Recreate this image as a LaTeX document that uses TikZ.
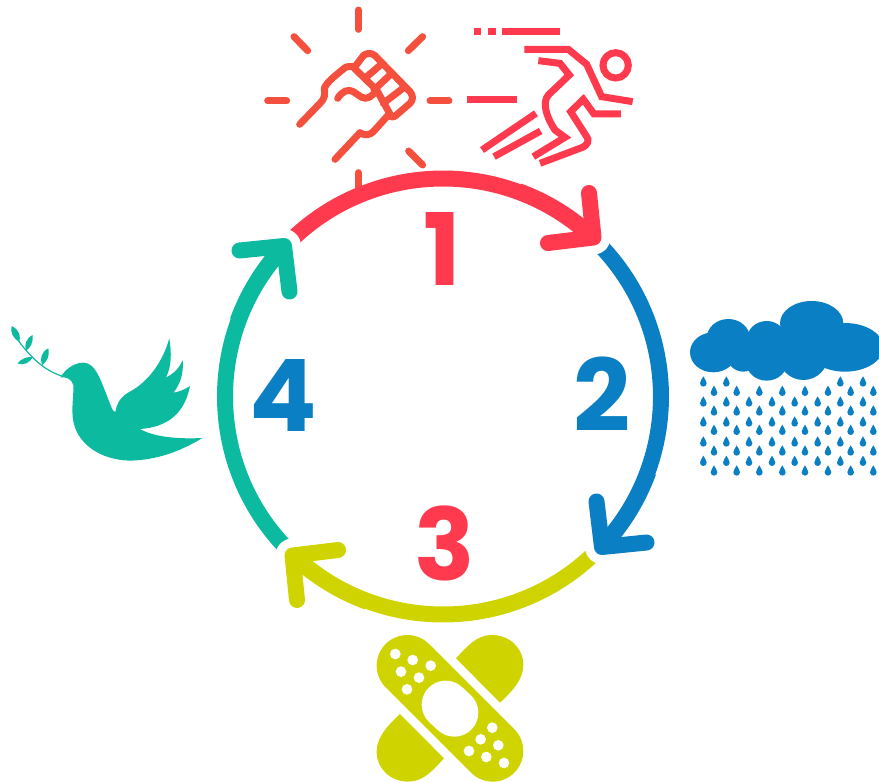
\documentclass[tikz,border=0pt]{standalone}
\usepackage{fontspec}
\setmainfont{Poppins}
\usetikzlibrary{calc}
\definecolor{ringred}{HTML}{FF3A4F}
\definecolor{ringblue}{HTML}{0A7FC4}
\definecolor{ringolive}{HTML}{CFD400}
\definecolor{ringteal}{HTML}{0CBAA0}
\definecolor{fistred}{HTML}{F5503D}
\tikzset{ring/.style={line width=16pt},
  head/.style={line width=16pt,line cap=round,line join=round},
  numeral/.style={font=\fontsize{100}{100}\selectfont\bfseries,inner sep=0pt},
  fistline/.style={draw=fistred,line width=7pt,line cap=round,line join=round},
  runline/.style={draw=ringred,line width=7pt,line join=miter},
  raindrop/.pic={\fill[ringblue] (0,-16) .. controls (3,-8) and (10,-3) .. (10,5)
    .. controls (10,11) and (5,15) .. (0,15) .. controls (-5,15) and (-10,11) .. (-10,5)
    .. controls (-10,-3) and (-3,-8) .. (0,-16);}}
\begin{document}
\begin{tikzpicture}[x=1pt,y=-1pt]
\useasboundingbox (0,0) rectangle (879,782);
\clip (0,0) rectangle (879,782);
\coordinate (ctr) at (443,396.5);
% fist
\begin{scope}[shift={(255pt,0pt)},x=.3333pt,y=-.3333pt]
\foreach \xa/\ya/\xb/\yb in {310/30/310/88,503/110/460/152,117/110/158/152,38/303/95/303,
  525/303/582/303,461/453/503/495,310/518/310/590}
  \draw[fistline] (\xa,\ya)--(\xb,\yb);
\end{scope}
\begin{scope}[shift={(295pt,-40pt)},x=.3333pt,y=-.3333pt]
\draw[fistline] (14,253)--(75,190) .. controls (90,175) and (90,165) .. (88,145)
  .. controls (95,125) and (130,100) .. (150,83) .. controls (158,78) and (170,80) .. (180,80)
  --(205,47) .. controls (215,38) and (230,38) .. (240,47)--(345,155)
  .. controls (355,167) and (355,180) .. (345,190)--(303,226) .. controls (295,233) and (288,232) .. (280,225)
  --(235,275) .. controls (222,287) and (208,287) .. (195,278)--(120,358);
\draw[fistline] (178,85)--(245,150)--(285,222);
\draw[fistline] (260,72)--(213,112);
\draw[fistline] (290,100)--(237,150);
\draw[fistline] (330,140)--(265,190);
\draw[fistline] (128,175) .. controls (140,155) and (160,145) .. (175,155)
  --(200,172) .. controls (215,180) and (232,170) .. (245,150);
\end{scope}
% runner
\begin{scope}[shift={(470pt,-20pt)},x=.3333pt,y=-.3333pt]
\draw[runline] (12,34)--(33,34);
\draw[runline] (55,34)--(77,34);
\draw[runline] (97,34)--(270,34);
\draw[runline] (-10,238)--(141,238);
\draw[runline] (163,88)--(295,88)--(350,133)--(395,230)--(488,245);
\draw[runline] (437,136) circle[radius=38];
\draw[runline] (205,122)--(270,130)--(298,165)--(235,225) .. controls (218,245) and (225,285) .. (255,330)
  --(285,352)--(190,410);
\draw[runline] (210,430)--(335,383) .. controls (355,375) and (358,360) .. (350,350)--(302,275)--(340,238)--(372,282)--(453,282);
\draw[runline] (36,390)--(198,280);
\draw[runline] (72,410)--(212,333);
\end{scope}
% cycle
\foreach \rot/\ringcol in {0/ringred,90/ringblue,180/ringolive,270/ringteal}
  \draw[ring,\ringcol] ($(ctr)+({\rot-136.6}:218)$) arc[start angle=\rot-136.6,end angle=\rot-46.6,radius=218];
\foreach \rot/\ringcol/\name in {0/ringred/one,90/ringblue/two,180/ringolive/three,270/ringteal/four}{
  \begin{scope}[rotate around={-\rot:(ctr)}]
  \coordinate (tip\name) at (593.5,237.5);
  \fill[white] (tip\name) circle[radius=17];
  \draw[ring,\ringcol] (tip\name) arc[start angle=-46.6,end angle=-70,radius=218];
  \draw[head,\ringcol] (589,193)--(tip\name)--(548,243);
  \end{scope}}
\node[numeral,text=ringred] (numone) at (442,248.5) {1};
\node[numeral,text=ringblue] (numtwo) at (602,394.5) {2};
\node[numeral,text=ringred] (numthree) at (445,543) {3};
\node[numeral,text=ringblue] (numfour) at (283,395) {4};
% cloud and rain
\begin{scope}[shift={(680pt,-290pt)},x=.3333pt,y=-.3333pt]
\fill[ringblue] (100,187) ellipse[x radius=70,y radius=60];
\fill[ringblue] (145,145) ellipse[x radius=65,y radius=58];
\fill[ringblue] (190,195) ellipse[x radius=50,y radius=50];
\fill[ringblue] (260,150) ellipse[x radius=60,y radius=57];
\fill[ringblue] (260,215) ellipse[x radius=62,y radius=57];
\fill[ringblue] (395,100) ellipse[x radius=95,y radius=67];
\fill[ringblue] (370,195) ellipse[x radius=75,y radius=75];
\fill[ringblue] (495,172) ellipse[x radius=115,y radius=73];
\foreach \px in {70,139,481,549}
  \pic at (\px,275) {raindrop};
\foreach \py in {335,395,455,513}
  \foreach \px in {70,139,207,276,344,413,481,549}
    \pic at (\px,\py) {raindrop};
\foreach \py in {303,362,420,482,542}
  \foreach \px in {102,170,238,307,375,444,512,580}
    \pic at (\px,\py) {raindrop};
\end{scope}
% dove
\begin{scope}[shift={(0pt,-320pt)},x=.3333pt,y=-.3333pt]
\draw[ringteal,line width=1.2pt] (185,168) .. controls (130,150) and (90,110) .. (50,55);
\fill[ringteal] (181,172) .. controls (195,150) and (220,128) .. (250,128)
  .. controls (285,128) and (300,175) .. (320,225) .. controls (330,250) and (338,278) .. (346,276)
  .. controls (352,240) and (370,225) .. (395,212) .. controls (450,180) and (490,120) .. (508,55)
  .. controls (515,100) and (515,140) .. (498,172) .. controls (525,160) and (540,140) .. (548,120)
  .. controls (552,160) and (540,195) .. (520,218) .. controls (540,215) and (555,208) .. (570,198)
  .. controls (560,250) and (530,320) .. (420,327) .. controls (460,350) and (530,358) .. (607,354)
  .. controls (540,395) and (470,420) .. (390,422) .. controls (300,420) and (225,370) .. (218,290)
  .. controls (215,250) and (222,220) .. (220,195) .. controls (215,178) and (200,170) .. (181,172) -- cycle;
\fill[ringteal] (35,18) .. controls (60,30) and (62,50) .. (58,65) .. controls (38,55) and (30,35) .. (35,18);
\fill[ringteal] (98,45) .. controls (100,70) and (90,85) .. (78,92) .. controls (72,75) and (78,55) .. (98,45);
\fill[ringteal] (145,85) .. controls (150,110) and (140,125) .. (127,135) .. controls (118,115) and (125,95) .. (145,85);
\fill[ringteal] (52,130) .. controls (65,115) and (85,108) .. (98,112) .. controls (90,128) and (70,138) .. (52,130);
\end{scope}
% plaster
\begin{scope}[shift={(370pt,-630pt)},x=.3333pt,y=-.3333pt]
\fill[ringolive] (258,85) .. controls (290,50) and (320,15) .. (365,15) .. controls (420,15) and (460,55) .. (460,105)
  .. controls (460,150) and (425,185) .. (390,218) -- cycle;
\fill[ringolive] (222,385) .. controls (190,420) and (160,455) .. (115,455) .. controls (60,455) and (20,415) .. (20,365)
  .. controls (20,320) and (55,285) .. (90,252) -- cycle;
\draw[ringolive,line width=61.3pt,line cap=round] (112,107)--(368,363);
\draw[white,line width=48pt,line cap=round] (227,224)--(253,248);
\foreach \px/\py in {76/72,128/90,182/107,93/125,147/143,111/178,367/293,332/328,385/346,297/363,349/381,402/399}
  \fill[white] (\px,\py) circle[radius=16];
\end{scope}
\end{tikzpicture}
\end{document}
